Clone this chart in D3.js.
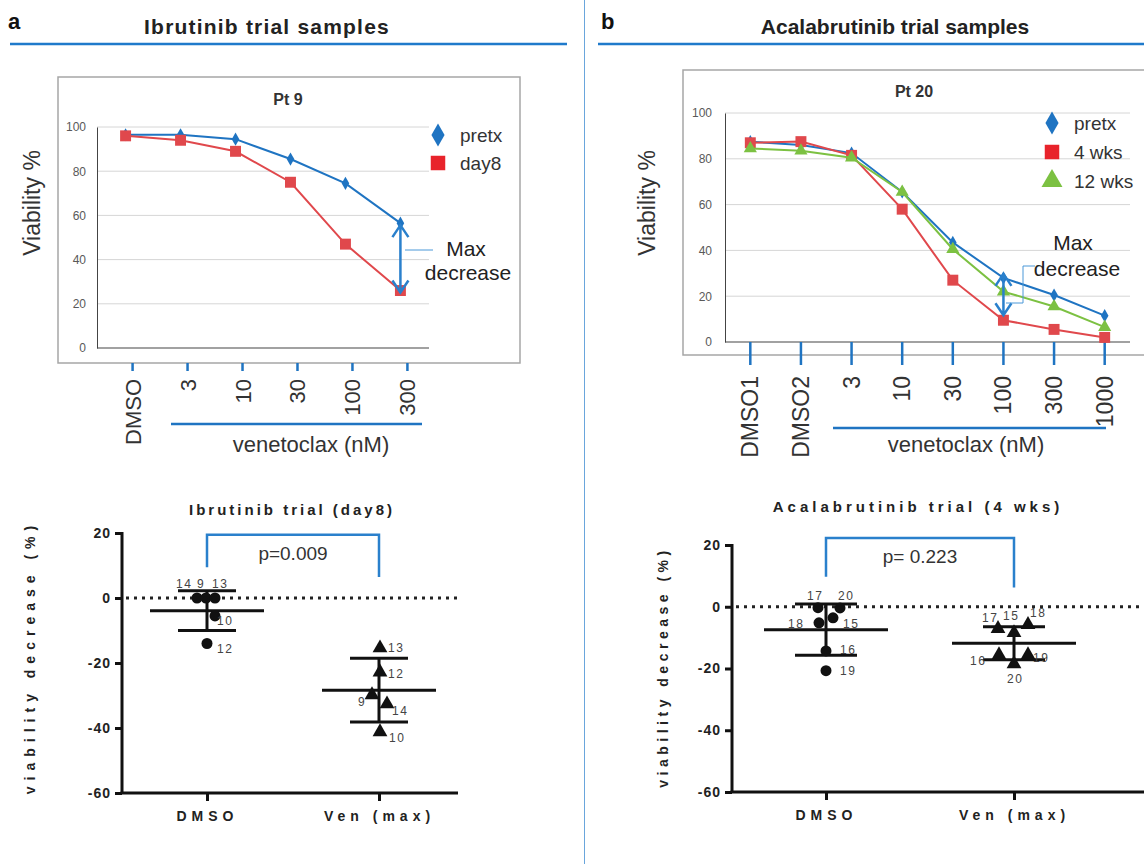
<!DOCTYPE html>
<html>
<head>
<meta charset="utf-8">
<script src="https://cdn.jsdelivr.net/npm/d3@7"></script>
<style>
body { margin: 0; background: #fff; }
text { font-family: Arial, "Liberation Sans", sans-serif; }
</style>
</head>
<body>
<svg id="fig" width="1144" height="864"></svg>
<script>
// ---- data ----
var concA = ["DMSO", "3", "10", "30", "100", "300"];
var pretxA = [96.5, 96.5, 94.5, 85.5, 74.5, 56.5];
var day8A = [96, 94, 89, 75, 47, 26];

var concB = ["DMSO1", "DMSO2", "3", "10", "30", "100", "300", "1000"];
var pretxB = [87.5, 86, 82.5, 65.5, 43.5, 28, 20.5, 11.5];
var wk4B = [87, 87.5, 81.5, 58, 27, 9.5, 5.5, 2];
var wk12B = [84.5, 83.5, 80.5, 65.5, 40.5, 22, 15.5, 6.5];

var groups = ["DMSO", "Ven (max)"];
var yTicksDot = [-60, -40, -20, 0, 20];

// ibrutinib (day8), patient ids and viability decrease
var ibrDmsoIds = ["14", "9", "13", "10", "12"];
var ibrDmsoVals = [0, 0, 0, -5.5, -14];
var ibrVenIds = ["13", "12", "9", "14", "10"];
var ibrVenVals = [-15.4, -22.8, -29.8, -32.6, -41.2];

// acalabrutinib (4 wks)
var acaDmsoIds = ["17", "20", "15", "18", "16", "19"];
var acaDmsoVals = [-0.3, -0.4, -3.6, -5.2, -14.3, -20.7];
var acaVenIds = ["17", "15", "18", "16", "19", "20"];
var acaVenVals = [-7.1, -8.4, -5.8, -15.6, -15.6, -18.5];

var pIbr = "p=0.009";
var pAca = "p= 0.223";

// ---- colours ----
var BLUE = "#1f74c2";
var RED = "#e0484c";
var GREEN = "#7cc142";
var LINEBLUE = "#2a80cc";

var svg = d3.select("#fig");

// headers
function header(letter, title, lx, tx, ls, x1, x2) {
  svg.append("text").attr("x", lx).attr("y", 29).text(letter)
    .style("font-size", "22px").style("font-weight", "bold").attr("fill", "#111");
  svg.append("text").attr("x", tx).attr("y", 34).attr("text-anchor", "middle").text(title)
    .style("font-size", "21px").style("font-weight", "bold").style("letter-spacing", ls + "px").attr("fill", "#222");
  svg.append("line").attr("x1", x1).attr("x2", x2).attr("y1", 44).attr("y2", 44)
    .attr("stroke", "#1f7acb").attr("stroke-width", 2.5);
}
header("a", "Ibrutinib trial samples", 8, 267, 1.2, 10, 567);
header("b", "Acalabrutinib trial samples", 601, 895, 0, 598, 1144);
svg.append("line").attr("x1", 584.5).attr("x2", 584.5).attr("y1", 0).attr("y2", 864)
  .attr("stroke", "#6aa6dc").attr("stroke-width", 1);

function symbolPath(shape, size) {
  var t = shape === "diamond" ? d3.symbolDiamond : shape === "square" ? d3.symbolSquare : d3.symbolTriangle;
  return d3.symbol().type(t).size(size)();
}

//Dose response line chart with excel-like frame
function lineChart(c) {
  var g = svg.append("g");
  g.append("rect").attr("x", c.box[0]).attr("y", c.box[1]).attr("width", c.box[2]).attr("height", c.box[3])
    .attr("fill", "none").attr("stroke", "#a6a6a6").attr("stroke-width", 1.5);

  var x = d3.scalePoint().domain(c.cats).range([c.left, c.right]).padding(c.pad);
  var y = d3.scaleLinear().domain([0, 100]).range([c.bottom, c.top]);

  g.selectAll(".grid").data(y.ticks(5).filter(function(d) { return d > 0; })).enter()
    .append("line").attr("x1", c.left).attr("x2", c.right)
    .attr("y1", function(d) { return y(d); }).attr("y2", function(d) { return y(d); })
    .attr("stroke", "#d6d6d6").attr("stroke-width", 1);

  var ax = g.append("g").attr("transform", "translate(" + c.left + ",0)")
    .call(d3.axisLeft(y).ticks(5).tickSize(0).tickPadding(c.tickPad));
  ax.select(".domain").attr("stroke", "#444");
  ax.selectAll("text").style("font-size", "12px").attr("fill", "#595959").style("font-family", "Arial, 'Liberation Sans', sans-serif");
  g.append("line").attr("x1", c.left).attr("x2", c.right).attr("y1", c.bottom).attr("y2", c.bottom)
    .attr("stroke", "#444").attr("stroke-width", 1.2);

  // blue category ticks and rotated labels under the frame
  c.cats.forEach(function(d) {
    var tx = x(d) + c.tickOff;
    g.append("line").attr("x1", tx).attr("x2", tx).attr("y1", c.tickY[0]).attr("y2", c.tickY[1])
      .attr("stroke", BLUE).attr("stroke-width", 2.5);
    g.append("text").attr("transform", "translate(" + (tx + 8) + "," + c.labelY + ") rotate(-90)")
      .attr("text-anchor", "end").text(d).style("font-size", c.labSize + "px").attr("fill", "#333");
  });
  g.append("line").attr("x1", c.vline[0]).attr("x2", c.vline[1]).attr("y1", c.vline[2]).attr("y2", c.vline[2])
    .attr("stroke", BLUE).attr("stroke-width", 2.5);
  g.append("text").attr("x", c.vtext[0]).attr("y", c.vtext[1]).attr("text-anchor", "middle")
    .text("venetoclax (nM)").style("font-size", "22px").attr("fill", "#333");

  g.append("text").attr("transform", "translate(" + c.ylab[0] + "," + c.ylab[1] + ") rotate(-90)")
    .attr("text-anchor", "middle").text("Viability %").style("font-size", "23px").attr("fill", "#333");
  g.append("text").attr("x", c.title[0]).attr("y", c.title[1]).attr("text-anchor", "middle")
    .text(c.title[2]).style("font-size", "16px").style("font-weight", "bold").attr("fill", "#333");

  var line = d3.line().x(function(d, i) { return x(c.cats[i]); }).y(function(d) { return y(d); });
  c.series.forEach(function(s) {
    g.append("path").datum(s.values).attr("d", line).attr("fill", "none")
      .attr("stroke", s.color).attr("stroke-width", 2);
    g.selectAll(null).data(s.values).enter().append("path")
      .attr("d", symbolPath(s.shape, s.size))
      .attr("transform", function(d, i) { return "translate(" + x(c.cats[i]) + "," + y(d) + ")"; })
      .attr("fill", s.color);
  });

  // legend
  c.series.forEach(function(s, i) {
    var ly = c.legend[1] + i * c.legend[2];
    g.append("path").attr("d", symbolPath(s.shape, s.legSize))
      .attr("transform", "translate(" + c.legend[0] + "," + ly + ")").attr("fill", s.legColor);
    g.append("text").attr("x", c.legend[0] + 22).attr("y", ly + 7).text(s.name)
      .style("font-size", "19px").attr("fill", "#333");
  });

  // max decrease double arrow between first and second series at chosen dose
  var axx = x(c.cats[c.arrowAt]);
  var ya = y(c.series[0].values[c.arrowAt]) + c.arrowIn[0];
  var yb = y(c.series[1].values[c.arrowAt]) - c.arrowIn[1];
  g.append("path").attr("d", "M" + axx + "," + ya + "V" + yb +
      "M" + (axx - 8) + "," + (ya + 12) + "L" + axx + "," + ya + "L" + (axx + 8) + "," + (ya + 12) +
      "M" + (axx - 8) + "," + (yb - 12) + "L" + axx + "," + yb + "L" + (axx + 8) + "," + (yb - 12))
    .attr("fill", "none").attr("stroke", LINEBLUE).attr("stroke-width", 2.5);
  g.append("path").attr("d", c.connector).attr("fill", "none").attr("stroke", "#4a98d8").attr("stroke-width", 1);
  g.append("text").attr("x", c.maxTxt[0]).attr("y", c.maxTxt[1]).attr("text-anchor", "middle").text("Max")
    .style("font-size", "21px").attr("fill", "#222");
  g.append("text").attr("x", c.maxTxt[2]).attr("y", c.maxTxt[3]).attr("text-anchor", "middle").text("decrease")
    .style("font-size", "21px").attr("fill", "#222");
}

lineChart({
  box: [58, 77, 462, 286], left: 97, right: 429, top: 127, bottom: 348, pad: 0.52, tickPad: 11,
  cats: concA, tickOff: 7, tickY: [363, 371], labelY: 379, labSize: 22,
  vline: [171, 422, 424], vtext: [311, 452], ylab: [40, 203], title: [288, 105, "Pt 9"],
  series: [
    { name: "pretx", values: pretxA, color: BLUE, legColor: BLUE, shape: "diamond", size: 50, legSize: 150 },
    { name: "day8", values: day8A, color: RED, legColor: "#e8232b", shape: "square", size: 120, legSize: 210 }
  ],
  legend: [438, 135, 28],
  arrowAt: 5, arrowIn: [2, -2],
  connector: "M405,250H433", maxTxt: [466, 256, 468, 280]
});

lineChart({
  box: [683, 70, 463, 285], left: 725, right: 1130, top: 113, bottom: 342, pad: 0.5, tickPad: 13,
  cats: concB, tickOff: 0, tickY: [342, 365], labelY: 376, labSize: 23,
  vline: [833, 1106, 428], vtext: [966, 452], ylab: [655, 203], title: [914, 97, "Pt 20"],
  series: [
    { name: "pretx", values: pretxB, color: BLUE, legColor: BLUE, shape: "diamond", size: 50, legSize: 150 },
    { name: "4 wks", values: wk4B, color: RED, legColor: "#e8232b", shape: "square", size: 120, legSize: 210 },
    { name: "12 wks", values: wk12B, color: GREEN, legColor: GREEN, shape: "triangle", size: 75, legSize: 190 }
  ],
  legend: [1052, 123, 29],
  arrowAt: 5, arrowIn: [-4, 5],
  connector: "M1006,303H1023V266H1035", maxTxt: [1073, 250, 1077, 276]
});

//Scatter with mean and SD for each group
function dotChart(c) {
  var g = svg.append("g");
  var x = d3.scalePoint().domain(groups).range(c.xr);
  var y = d3.scaleLinear().domain([-60, 20]).range([c.bottom, c.top]);

  g.append("text").attr("x", c.title[0]).attr("y", c.title[1]).attr("text-anchor", "middle").text(c.title[2])
    .style("font-size", "15px").style("font-weight", "bold").style("letter-spacing", c.titleLs + "px").attr("fill", "#222");

  var ay = g.append("g").attr("transform", "translate(" + c.left + ",0)")
    .call(d3.axisLeft(y).tickValues(yTicksDot).tickSize(7).tickPadding(4).tickFormat(function(d) { return String(d); }));
  ay.select(".domain").attr("stroke", "#111").attr("stroke-width", 3).attr("d", "M0," + y(-60) + "V" + (y(20) - 1));
  ay.selectAll(".tick line").attr("stroke", "#111").attr("stroke-width", 3);
  ay.selectAll("text").style("font-size", "14px").style("font-weight", "bold").style("letter-spacing", "1px")
    .style("font-family", "Arial, 'Liberation Sans', sans-serif").attr("fill", "#222");

  var axb = g.append("g").attr("transform", "translate(0," + y(-60) + ")")
    .call(d3.axisBottom(x).tickSize(8).tickPadding(10));
  axb.select(".domain").remove();
  axb.selectAll(".tick line").attr("stroke", "#111").attr("stroke-width", 3);
  axb.selectAll("text").style("font-size", "14px").style("font-weight", "bold").style("letter-spacing", "5px")
    .style("font-family", "Arial, 'Liberation Sans', sans-serif").attr("fill", "#222");
  g.append("line").attr("x1", c.left - 1.5).attr("x2", c.right).attr("y1", y(-60)).attr("y2", y(-60))
    .attr("stroke", "#111").attr("stroke-width", 3);

  g.append("text").attr("transform", "translate(" + c.ylab[0] + "," + c.ylab[1] + ") rotate(-90)")
    .attr("text-anchor", "middle").text("viability decrease (%)")
    .style("font-size", "14px").style("font-weight", "bold").style("letter-spacing", c.ylabLs + "px").attr("fill", "#222");

  // zero line
  g.append("line").attr("x1", c.left + 4).attr("x2", c.right).attr("y1", y(0)).attr("y2", y(0))
    .attr("stroke", "#222").attr("stroke-width", 3).attr("stroke-dasharray", "3,5");

  // significance bracket
  g.append("path").attr("d", "M" + x(groups[0]) + "," + y(c.bracket[1]) + "V" + y(c.bracket[0]) +
      "H" + x(groups[1]) + "V" + y(c.bracket[2]))
    .attr("fill", "none").attr("stroke", LINEBLUE).attr("stroke-width", 2.5);
  g.append("text").attr("x", (x(groups[0]) + x(groups[1])) / 2).attr("y", y(c.bracket[0]) + 25)
    .attr("text-anchor", "middle").text(c.p).style("font-size", "19px").attr("fill", "#333");

  c.sets.forEach(function(s) {
    var cx = x(s.group);
    var m = d3.mean(s.vals), sd = d3.deviation(s.vals);
    [[m, c.meanW], [m + sd, c.sdW], [m - sd, c.sdW]].forEach(function(h) {
      g.append("line").attr("x1", cx - h[1]).attr("x2", cx + h[1]).attr("y1", y(h[0])).attr("y2", y(h[0]))
        .attr("stroke", "#111").attr("stroke-width", 3);
    });
    g.append("line").attr("x1", cx).attr("x2", cx).attr("y1", y(m + sd)).attr("y2", y(m - sd))
      .attr("stroke", "#111").attr("stroke-width", 3);

    s.vals.forEach(function(v, i) {
      var px = cx + s.jit[i], py = y(v);
      if (s.shape === "circle") {
        g.append("circle").attr("cx", px).attr("cy", py).attr("r", 5.5).attr("fill", "#111");
      } else {
        g.append("path").attr("d", symbolPath(s.shape, 95))
          .attr("transform", "translate(" + px + "," + py + ")").attr("fill", "#111");
      }
      g.append("text").attr("x", px + s.lab[i][0]).attr("y", py + s.lab[i][1]).text(s.ids[i])
        .style("font-size", "12px").style("letter-spacing", "1.5px").attr("fill", "#444");
    });
  });
}

dotChart({
  xr: [207, 379], left: 122, right: 458, top: 533, bottom: 793,
  title: [292, 515, "Ibrutinib trial (day8)"], titleLs: 3,
  ylab: [35, 657], ylabLs: 6,
  bracket: [19.5, 9.5, 6.5], p: pIbr, meanW: 57, sdW: 29,
  sets: [
    { group: "DMSO", shape: "circle", ids: ibrDmsoIds, vals: ibrDmsoVals,
      jit: [-10, -1, 8, 8, 0], lab: [[-21, -10], [-9, -10], [-3, -10], [2, 9], [10, 9]] },
    { group: "Ven (max)", shape: "triangle", ids: ibrVenIds, vals: ibrVenVals,
      jit: [1, 1, -7, 8, 1], lab: [[8, 4], [8, 6], [-14, 11], [5, 11], [9, 10]] }
  ]
});

dotChart({
  xr: [826, 1014], left: 732, right: 1144, top: 545, bottom: 792,
  title: [918, 512, "Acalabrutinib trial (4 wks)"], titleLs: 4,
  ylab: [668, 667], ylabLs: 4.5,
  bracket: [22.3, 9.7, 6.2], p: pAca, meanW: 62, sdW: 31,
  sets: [
    { group: "DMSO", shape: "circle", ids: acaDmsoIds, vals: acaDmsoVals,
      jit: [-8, 14, 7, -7, 0, 0], lab: [[-11, -8], [-2, -8], [10, 10], [-31, 5], [14, 3], [14, 4]] },
    { group: "Ven (max)", shape: "triangle", ids: acaVenIds, vals: acaVenVals,
      jit: [-16, 0, 14, -15, 14, 0], lab: [[-16, -7], [-11, -13], [2, -8], [-29, 10], [5, 7], [-7, 19]] }
  ]
});
</script>
</body>
</html>
